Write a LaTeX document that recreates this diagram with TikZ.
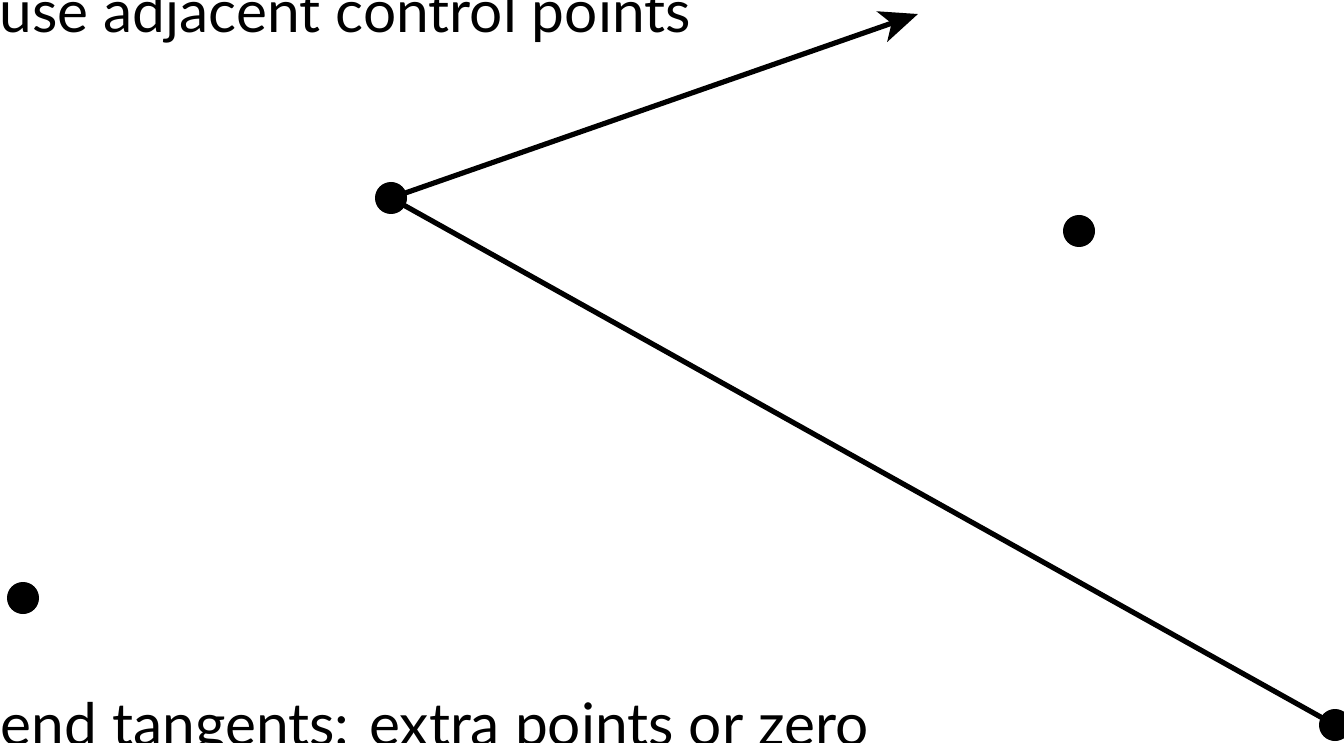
\documentclass[tikz,border=0pt]{standalone}
\usepackage{fontspec}
\setmainfont{Lato}
\usetikzlibrary{arrows.meta}
\tikzset{
  ctrl/.style={circle, fill=black, inner sep=0pt, minimum size=16pt},
  edge/.style={line width=2.6pt},
  caption/.style={inner sep=0pt, font=\fontsize{29.3}{35}\selectfont}
}
\begin{document}
\begin{tikzpicture}[x=0.5pt, y=-0.5pt]
  % frame of the slide crop
  \useasboundingbox (0,0) rectangle (1344,743);
  \clip (0,0) rectangle (1344,743);

  % control points
  \node[ctrl] (p1) at (391,198) {};
  \node[ctrl] (p2) at (1079,231) {};
  \node[ctrl] (p0) at (23,598) {};
  \node[ctrl] (p3) at (1335,725) {};
  \coordinate (tip) at (918,14);

  % tangent and chord
  \draw[edge, -{Stealth[length=19pt, width=16pt, inset=5pt]}] (p1.center) -- (tip);
  \draw[edge] (p1.center) -- (p3.center);

  % texts
  \node[caption, anchor=base east] (top) at (691,33) {use adjacent control points};
  \node[caption, anchor=base east] (bottom) at (869,745) {end tangents: extra points or zero};
\end{tikzpicture}
\end{document}
